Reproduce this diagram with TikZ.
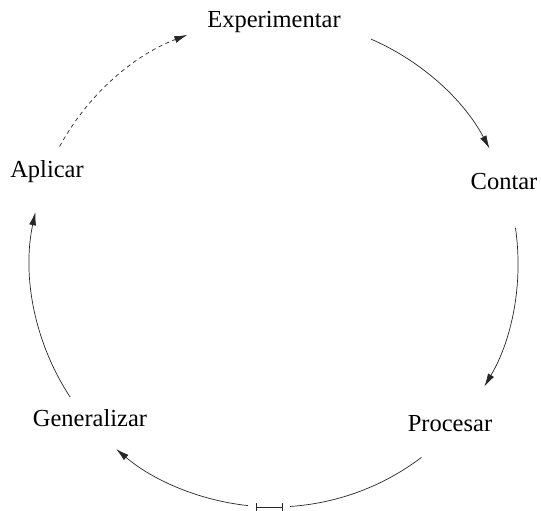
\documentclass[tikz,border=0pt]{standalone}
\usepackage{fontspec}
\setmainfont{Liberation Serif}
\usetikzlibrary{calc,arrows.meta}
\begin{document}
\begin{tikzpicture}[x=1pt,y=1pt,
  lbl/.style={inner sep=0pt,anchor=base,font=\fontsize{24.5pt}{29pt}\selectfont},
  conn/.style={line width=0.7pt,draw=black!85},
  arr/.style={conn,-{Latex[length=13pt,width=7pt]}},
  dasharr/.style={arr,dash pattern=on 4pt off 3.5pt}]
\useasboundingbox (0,0) rectangle (541,511);
\coordinate (c) at (274,248);
\node[lbl] (exp) at (274,483) {Experimentar};
\node[lbl] (con) at (504,321) {Contar};
\node[lbl] (pro) at (450,79) {Procesar};
\node[lbl] (gen) at (90,84) {Generalizar};
\node[lbl] (apl) at (47,333) {Aplicar};
% arcs between the nodes
\coordinate (ec) at ($(c)+(66.6:244pt)$);
\coordinate (cp) at ($(c)+(8.3:244pt)$);
\coordinate (pg) at ($(c)+(-52.8:244pt)$);
\coordinate (pgm) at ($(c)+(-96.1:244pt)$);
\coordinate (ga) at ($(c)+(213.3:244pt)$);
\coordinate (ae) at ($(c)+(151.5:244pt)$);
\draw[arr] (ec) arc[start angle=66.6,end angle=28,radius=244pt];
\draw[arr] (cp) arc[start angle=8.3,end angle=-30.4,radius=244pt];
\draw[conn] (pg) arc[start angle=-52.8,end angle=-86.2,radius=244pt];
\draw[arr] (pgm) arc[start angle=-96.1,end angle=-130.3,radius=244pt];
\draw[arr] (ga) arc[start angle=213.3,end angle=168,radius=244pt];
\draw[dasharr] (ae) arc[start angle=151.5,end angle=110.8,radius=244pt];
% bar mark at the bottom
\coordinate (bl) at (256,4);
\coordinate (br) at (283,4);
\draw[conn,{Bar[width=8pt]}-{Bar[width=8pt]}] (bl) -- (br);
\end{tikzpicture}
\end{document}
